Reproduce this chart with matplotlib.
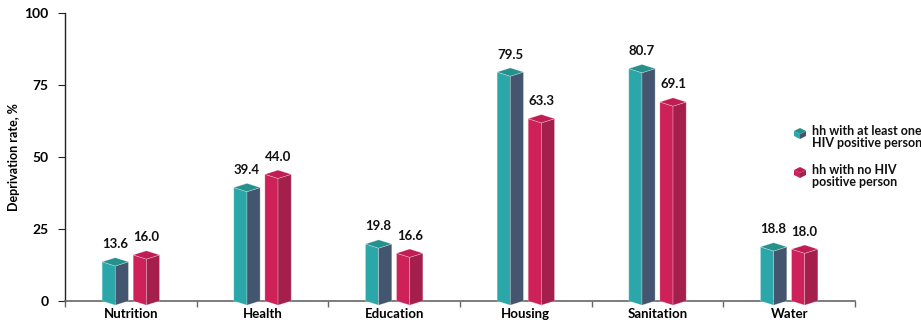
import matplotlib.pyplot as plt
from matplotlib.patches import Polygon

plt.rcParams['font.family'] = ['Lato', 'DejaVu Sans']

# Data
categories = ["Nutrition", "Health", "Education", "Housing", "Sanitation", "Water"]
hiv_pos = [13.6, 39.4, 19.8, 79.5, 80.7, 18.8]
hiv_none = [16.0, 44.0, 16.6, 63.3, 69.1, 18.0]
series_names = ["hh with at least one\nHIV positive person", "hh with no HIV\npositive person"]

# face colours: front, side, top
teal = ("#2ba6a9", "#44566f", "#25908c")
pink = ("#cf2159", "#a51f4d", "#bf1d54")

fig = plt.figure(figsize=(9.21, 3.24), dpi=100)
ax = fig.add_axes([65/921, 23/324, 790/921, 288/324])
ax.set_xlim(-0.5, len(categories) - 0.5)
ax.set_ylim(0, 100)

half = 0.100   # half bar width in category units
dy = 1.45      # depth drop of the front edge, in value units


def box(x, h, cols):
    l, r = x - half, x + half
    front = [(l, 0), (x, -dy), (x, h - dy), (l, h)]
    side = [(x, -dy), (r, 0), (r, h), (x, h - dy)]
    top = [(l, h), (x, h - dy), (r, h), (x, h + dy)]
    for pts, c in zip((front, side, top), cols):
        ax.add_patch(Polygon(pts, closed=True, facecolor=c, edgecolor=(1, 1, 1, 0.35),
                             lw=0.5, zorder=5, clip_on=False))


off = 0.118
for i in range(len(categories)):
    for v, sign, cols in ((hiv_pos[i], -1, teal), (hiv_none[i], 1, pink)):
        xc = i + sign * off
        box(xc, v, cols)
        ax.text(xc, v + 4.0, f"{v:.1f}", ha="center", va="bottom",
                fontsize=9.5, fontweight="bold", color="#111111")

for s in ("top", "right"):
    ax.spines[s].set_visible(False)
ax.spines["left"].set_color("#222222")
ax.spines["bottom"].set_color("#666666")
ax.spines["left"].set_linewidth(1.0)
ax.spines["bottom"].set_linewidth(1.2)

ax.set_yticks([0, 25, 50, 75, 100])
ax.tick_params(axis="y", length=5, width=0.8, color="#222222", labelsize=10, pad=7)
for t in ax.get_yticklabels():
    t.set_fontweight("bold")
ax.set_xticks(range(len(categories)))
ax.set_xticklabels(categories, fontsize=9.5, fontweight="bold")
ax.tick_params(axis="x", length=0, pad=5)
ax.set_xticks([i - 0.5 for i in range(len(categories) + 1)], minor=True)
ax.tick_params(axis="x", which="minor", length=4, width=1, color="#666666")
ax.set_ylabel("Deprivation rate, %", fontsize=9, fontweight="bold", va="center")
ax.yaxis.set_label_coords(-(65 - 14) / 790, 0.5)

# legend with small cubes
def cube(xp, yp, cols, s=6):
    W, H = 921.0, 324.0
    def p(a, b):
        return ((xp + a) / W, (H - (yp + b)) / H)
    front = [p(-s, -2), p(0, 1), p(0, 6), p(-s, 3)]
    side = [p(0, 1), p(s, -2), p(s, 3), p(0, 6)]
    top = [p(-s, -2), p(0, -5), p(s, -2), p(0, 1)]
    for pts, c in zip((front, side, top), cols):
        fig.add_artist(Polygon(pts, closed=True, facecolor=c, edgecolor="none",
                               transform=fig.transFigure))


cube(800, 133, teal)
fig.text(812 / 921, 1 - 125 / 324, series_names[0], fontsize=9, fontweight="bold",
         va="top", ha="left", linespacing=1.0, color="#111111")
cube(800, 172, pink)
fig.text(812 / 921, 1 - 164 / 324, series_names[1], fontsize=9, fontweight="bold",
         va="top", ha="left", linespacing=1.0, color="#111111")

fig.savefig("out.png", dpi=100)
